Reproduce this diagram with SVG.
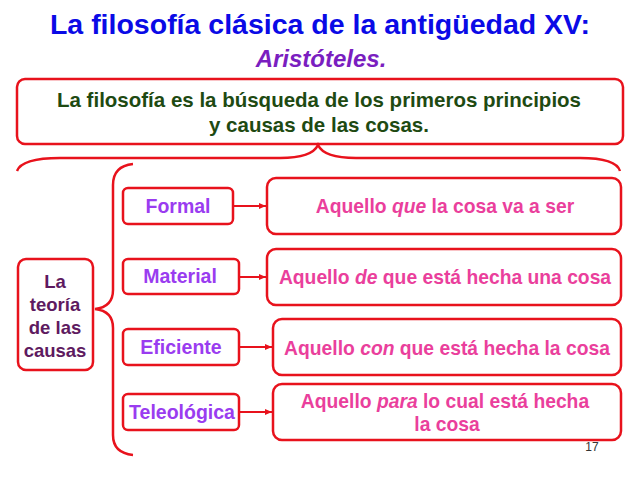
<svg xmlns="http://www.w3.org/2000/svg" width="638" height="479" viewBox="0 0 638 479">
<style>
  .box { fill: #ffffff; stroke: #e8121c; stroke-width: 2.5; }
  .ln { fill: none; stroke: #e8121c; stroke-width: 2.5; }
  .arr { fill: none; stroke: #e8121c; stroke-width: 2; }
  text { font-family: "Liberation Sans", Arial, sans-serif; font-weight: bold; text-anchor: middle; }
  .title { fill: #0a0ae6; font-size: 28.5px; }
  .sub { fill: #7a1ec0; font-size: 24px; font-style: italic; }
  .def { fill: #1e4a12; font-size: 20.5px; }
  .root { fill: #5e1a60; font-size: 18.5px; }
  .cat { fill: #9a3cf0; font-size: 19.5px; }
  .desc { fill: #ea3f9c; font-size: 19.3px; }
  .num { fill: #333333; font-size: 12px; font-weight: normal; }
</style>
<defs>
  <marker id="ah" markerWidth="8" markerHeight="8" refX="7" refY="4" orient="auto" markerUnits="userSpaceOnUse">
    <path d="M0,1 L7,4 L0,7 Z" fill="#e8121c"/>
  </marker>
</defs>
<rect width="638" height="479" fill="#ffffff"/>
<text class="title" x="320" y="33.5">La filosofía clásica de la antigüedad XV:</text>
<text class="sub" x="321" y="67">Aristóteles.</text>

<g id="definicion">
  <rect class="box" x="17" y="79" width="606" height="65" rx="8"/>
  <text class="def" x="319" y="107">La filosofía es la búsqueda de los primeros principios</text>
  <text class="def" x="319" y="132">y causas de las cosas.</text>
</g>

<g id="connectors">
  <path class="ln" d="M17,171 Q22,158 60,158 L280,158 Q312,158 318,145 Q324,158 356,158 L580,158 Q616,158 620,171"/>
  <path class="ln" d="M133,164 Q113,166 113,185 L113,290 Q113,307 95,309 Q113,311 113,328 L113,435 Q113,453 133,455"/>
  <line class="arr" x1="234" y1="206" x2="266" y2="206" marker-end="url(#ah)"/>
  <line class="arr" x1="240" y1="277" x2="266" y2="277" marker-end="url(#ah)"/>
  <line class="arr" x1="240" y1="347" x2="272" y2="347" marker-end="url(#ah)"/>
  <line class="arr" x1="240" y1="412" x2="272" y2="412" marker-end="url(#ah)"/>
</g>

<g id="teoria">
  <rect class="box" x="18" y="259" width="75" height="111" rx="8"/>
  <text class="root" x="55" y="288">La</text>
  <text class="root" x="55" y="311">teoría</text>
  <text class="root" x="55" y="334">de las</text>
  <text class="root" x="55" y="357">causas</text>
</g>

<g id="formal">
  <rect class="box" x="123" y="188" width="110" height="36" rx="5"/>
  <text class="cat" x="178" y="213">Formal</text>
</g>
<g id="material">
  <rect class="box" x="123" y="259" width="116" height="35" rx="5"/>
  <text class="cat" x="180" y="283">Material</text>
</g>
<g id="eficiente">
  <rect class="box" x="123" y="329" width="116" height="36" rx="5"/>
  <text class="cat" x="181" y="354">Eficiente</text>
</g>
<g id="teleologica">
  <rect class="box" x="123" y="394" width="116" height="36" rx="5"/>
  <text class="cat" x="182" y="419">Teleológica</text>
</g>

<g id="desc-formal">
  <rect class="box" x="267" y="178" width="354" height="56" rx="9"/>
  <text class="desc" x="445" y="213">Aquello <tspan font-style="italic">que</tspan> la cosa va a ser</text>
</g>
<g id="desc-material">
  <rect class="box" x="267" y="249" width="354" height="56" rx="9"/>
  <text class="desc" x="445" y="284">Aquello <tspan font-style="italic">de</tspan> que está hecha una cosa</text>
</g>
<g id="desc-eficiente">
  <rect class="box" x="273" y="319" width="348" height="56" rx="9"/>
  <text class="desc" x="447" y="355">Aquello <tspan font-style="italic">con</tspan> que está hecha la cosa</text>
</g>
<g id="desc-teleologica">
  <rect class="box" x="273" y="384" width="348" height="56" rx="9"/>
  <text class="desc" x="445" y="408">Aquello <tspan font-style="italic">para</tspan> lo cual está hecha</text>
  <text class="desc" x="447" y="431">la cosa</text>
</g>

<text class="num" x="592" y="451">17</text>
</svg>
